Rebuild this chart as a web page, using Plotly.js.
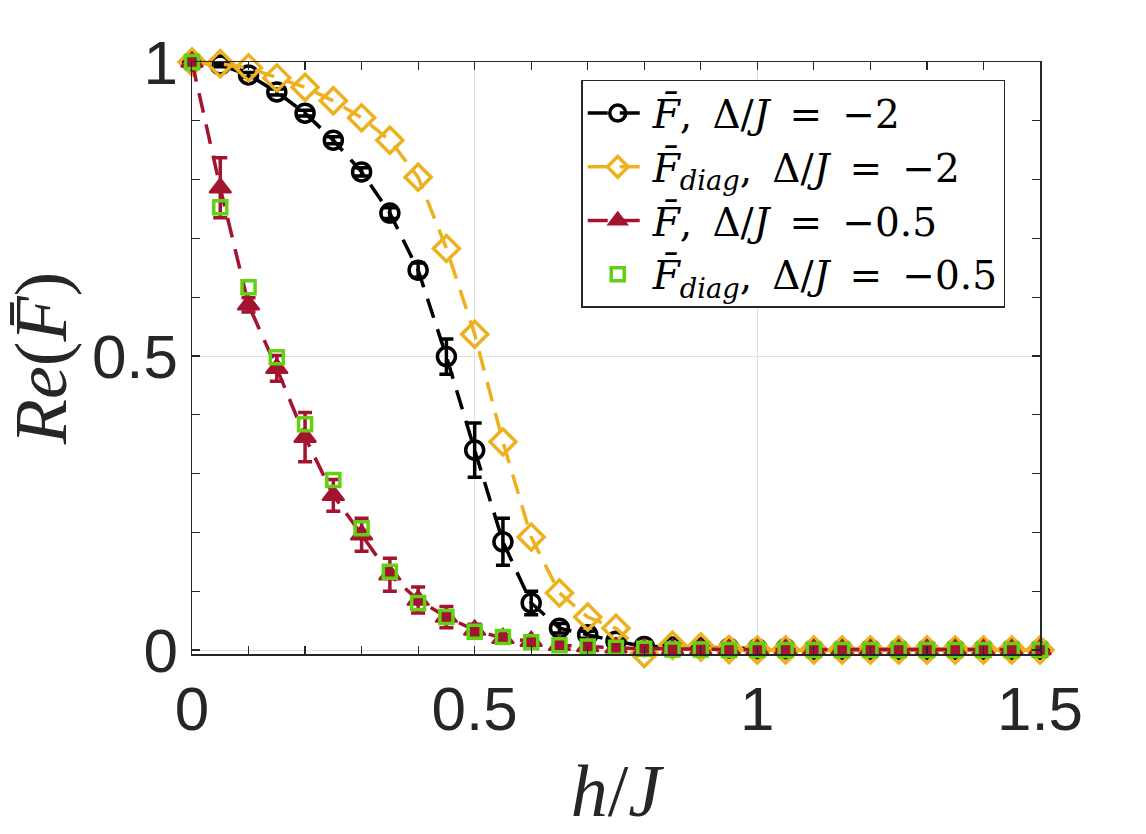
<!DOCTYPE html>
<html>
<head>
<meta charset="utf-8">
<script src="https://cdn.plot.ly/plotly-3.0.1.min.js"></script>
<style>
  html, body { margin: 0; padding: 0; background: #fff; }
  #chart { width: 1146px; height: 834px; }
</style>
</head>
<body>
<div id="chart"></div>
<script>
// field strength h/J
const h = [0, 0.05, 0.1, 0.15, 0.2, 0.25, 0.3, 0.35, 0.4, 0.45, 0.5, 0.55, 0.6, 0.65, 0.7, 0.75,
           0.8, 0.85, 0.9, 0.95, 1.0, 1.05, 1.1, 1.15, 1.2, 1.25, 1.3, 1.35, 1.4, 1.45, 1.5];

// Re(F̄), Δ/J = -2, with error bars
const fA = [1.0, 0.995, 0.978, 0.949, 0.913, 0.867, 0.813, 0.743, 0.646, 0.499, 0.340, 0.184, 0.080, 0.037, 0.026, 0.015,
            0.006, 0.005, 0.004, 0.003, 0.002, 0.002, 0.001, 0.001, 0.001, 0.001, 0.001, 0.001, 0.001, 0.001, 0.001];
const fAerr = [0.0, 0.003, 0.004, 0.005, 0.005, 0.006, 0.007, 0.009, 0.012, 0.030, 0.046, 0.040, 0.020, 0.008, 0.006, 0.004,
               0.003, 0.002, 0.002, 0.002, 0.002, 0.001, 0.001, 0.001, 0.001, 0.001, 0.001, 0.001, 0.001, 0.001, 0.001];

// Re(F̄_diag), Δ/J = -2
const fAdiag = [1.0, 0.997, 0.990, 0.973, 0.957, 0.934, 0.905, 0.867, 0.804, 0.683, 0.537, 0.354, 0.192, 0.097, 0.056, 0.037,
                -0.006, 0.008, 0.005, 0.001, 0.0, 0.0, 0.0, 0.0, 0.0, 0.0, 0.0, 0.0, 0.0, 0.0, 0.0];

// Re(F̄), Δ/J = -0.5, with error bars
const fB = [1.0, 0.786, 0.587, 0.479, 0.362, 0.263, 0.196, 0.128, 0.085, 0.056, 0.034, 0.020, 0.015, 0.008, 0.006, 0.004,
            0.002, 0.002, 0.001, 0.001, 0.001, 0.001, 0.001, 0.001, 0.001, 0.001, 0.001, 0.001, 0.001, 0.001, 0.001];
const fBerr = [0.0, 0.051, 0.012, 0.022, 0.042, 0.027, 0.028, 0.028, 0.022, 0.018, 0.010, 0.006, 0.004, 0.003, 0.002, 0.002,
               0.001, 0.001, 0.001, 0.001, 0.001, 0.001, 0.001, 0.001, 0.001, 0.001, 0.001, 0.001, 0.001, 0.001, 0.001];

// Re(F̄_diag), Δ/J = -0.5
const fBdiag = [1.0, 0.753, 0.617, 0.498, 0.384, 0.289, 0.207, 0.133, 0.080, 0.056, 0.031, 0.022, 0.013, 0.008, 0.006, 0.004,
                0.002, 0.001, 0.001, 0.0, 0.0, 0.0, 0.0, 0.0, 0.0, 0.0, 0.0, 0.0, 0.0, 0.0, 0.0];

// legend labels (math-style spacing)
const sp = '\u00A0\u2009';
const names = [
  '<i>F̄</i>,' + sp + 'Δ/<i>J</i>' + sp + '=' + sp + '−2',
  '<i>F̄</i><sub><i>diag</i></sub>,' + sp + 'Δ/<i>J</i>' + sp + '=' + sp + '−2',
  '<i>F̄</i>,' + sp + 'Δ/<i>J</i>' + sp + '=' + sp + '−0.5',
  '<i>F̄</i><sub><i>diag</i></sub>,' + sp + 'Δ/<i>J</i>' + sp + '=' + sp + '−0.5'
];

const cBlack = '#000000', cOrange = '#EDB120', cRed = '#A2142F', cGreen = '#62D013';
const dash = '20px,12px';
const lw = 3.5;

const traces = [
  {
    x: h, y: fA, name: names[0], type: 'scatter', mode: 'lines+markers', cliponaxis: false,
    line: { color: cBlack, width: lw, dash: dash },
    marker: { symbol: 'circle-open', size: 18, color: cBlack, line: { width: 3.5, color: cBlack } },
    error_y: { type: 'data', array: fAerr, visible: true, color: cBlack, thickness: 3.5, width: 7 }
  },
  {
    x: h, y: fAdiag, name: names[1], type: 'scatter', mode: 'lines+markers', cliponaxis: false,
    line: { color: cOrange, width: lw, dash: dash },
    marker: { symbol: 'diamond-open', size: 20, color: cOrange, line: { width: 3.5, color: cOrange } }
  },
  {
    x: h, y: fB, name: names[2], type: 'scatter', mode: 'lines+markers', cliponaxis: false,
    line: { color: cRed, width: lw, dash: dash },
    marker: { symbol: 'triangle-up', size: 19, color: cRed, line: { width: 2, color: cRed } },
    error_y: { type: 'data', array: fBerr, visible: true, color: cRed, thickness: 3.5, width: 7 }
  },
  {
    x: h, y: fBdiag, name: names[3], type: 'scatter', mode: 'markers', cliponaxis: false,
    marker: { symbol: 'square-open', size: 13, color: cGreen, line: { width: 3.5, color: cGreen } }
  }
];

const axisCommon = {
  showline: true, linecolor: '#262626', linewidth: 1.5, mirror: 'ticks',
  ticks: 'inside', ticklen: 8, tickwidth: 1.2, tickcolor: '#262626',
  showgrid: true, gridcolor: '#e0e0e0', gridwidth: 1,
  zeroline: false,
  tickfont: { family: 'Liberation Sans, Arial, sans-serif', size: 62, color: '#262626' }
};
const minorTicks = { dtick: 0.1, tick0: 0, ticks: 'inside', ticklen: 8, tickwidth: 1.2, tickcolor: '#262626', showgrid: false };
const titleFont = { family: 'Liberation Serif, Times New Roman, serif', size: 74, color: '#262626' };

const layout = {
  width: 1146, height: 834,
  margin: { l: 192, r: 106, t: 62, b: 180 },
  paper_bgcolor: '#ffffff', plot_bgcolor: '#ffffff',
  showlegend: true,
  xaxis: Object.assign({}, axisCommon, {
    range: [0, 1.5], tickvals: [0, 0.5, 1, 1.5], ticktext: ['0', '0.5', '1', '1.5'],
    minor: minorTicks,
    title: { text: '<i>h</i>/<i>J</i>', standoff: 22, font: titleFont }
  }),
  yaxis: Object.assign({}, axisCommon, {
    range: [-0.0068, 1], tickvals: [0, 0.5, 1], ticktext: ['0', '0.5', '1'],
    minor: minorTicks,
    title: { text: '<i>Re</i>(<i>F̄</i>)', standoff: 28, font: titleFont }
  }),
  legend: {
    x: 0.459, y: 0.97, xanchor: 'left', yanchor: 'top',
    bgcolor: '#ffffff', bordercolor: '#262626', borderwidth: 1.5,
    font: { family: 'DejaVu Serif, Liberation Serif, serif', size: 39, color: '#000000' },
    itemwidth: 60, tracegroupgap: 0
  }
};

Plotly.newPlot('chart', traces, layout, { displayModeBar: false, staticPlot: true });
</script>
</body>
</html>
